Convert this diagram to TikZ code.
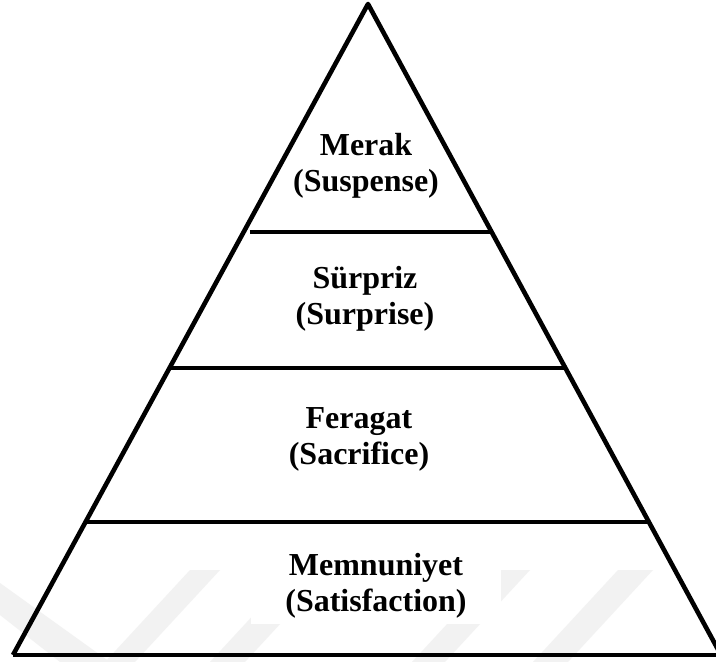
\documentclass[tikz,border=0pt]{standalone}
\usepackage{fontspec}
\setmainfont{Liberation Serif}
\usetikzlibrary{calc}
\tikzset{
  edge/.style={line width=4.6pt, line join=round},
  divider/.style={line width=3.3pt},
  lbl/.style={font=\fontsize{32}{36}\selectfont\bfseries, align=center, anchor=base, fill=white, inner xsep=34pt, inner ysep=6pt},
  wm/.style={fill=black!5, draw=none}
}
\begin{document}
\begin{tikzpicture}[x=1pt,y=-1pt]
\useasboundingbox (0,0) rectangle (716,662);
\fill[white] (0,0) rectangle (716,662);
% faint watermark stripes
\fill[wm] (0,583) -- (0,615) -- (60,662) -- (110,662) -- cycle;
\fill[wm] (105,662) -- (135,662) -- (220,570) -- (190,570) -- cycle;
\fill[wm] (210,662) -- (245,662) -- (330,570) -- (295,570) -- cycle;
\fill[wm] (412,662) -- (445,662) -- (530,570) -- (497,570) -- cycle;
\fill[wm] (533,662) -- (568,662) -- (653,570) -- (618,570) -- cycle;
% triangle
\coordinate (A) at (368,4);
\coordinate (BL) at (13,655);
\coordinate (BR) at (721,655);
\coordinate (L1) at ($(A)!0.3502!(BL)+(6,0)$);
\coordinate (R1) at ($(A)!0.3502!(BR)$);
\coordinate (L2) at ($(A)!0.5591!(BL)$);
\coordinate (R2) at ($(A)!0.5591!(BR)$);
\coordinate (L3) at ($(A)!0.7957!(BL)$);
\coordinate (R3) at ($(A)!0.7957!(BR)$);
% labels (anchor base = baseline of the last line)
\node[lbl] (merak) at (366,191) {Merak\\(Suspense)};
\node[lbl] (surpriz) at (365,324) {Sürpriz\\(Surprise)};
\node[lbl] (feragat) at (359,464) {Feragat\\(Sacrifice)};
\node[lbl] (memnun) at (376,611) {Memnuniyet\\(Satisfaction)};
\draw[divider] (L1) -- (R1);
\draw[divider] (L2) -- (R2);
\draw[divider] (L3) -- (R3);
\draw[edge] (BL) -- (A) -- (BR);
\draw[edge] (BL) -- (BR);
\end{tikzpicture}
\end{document}
